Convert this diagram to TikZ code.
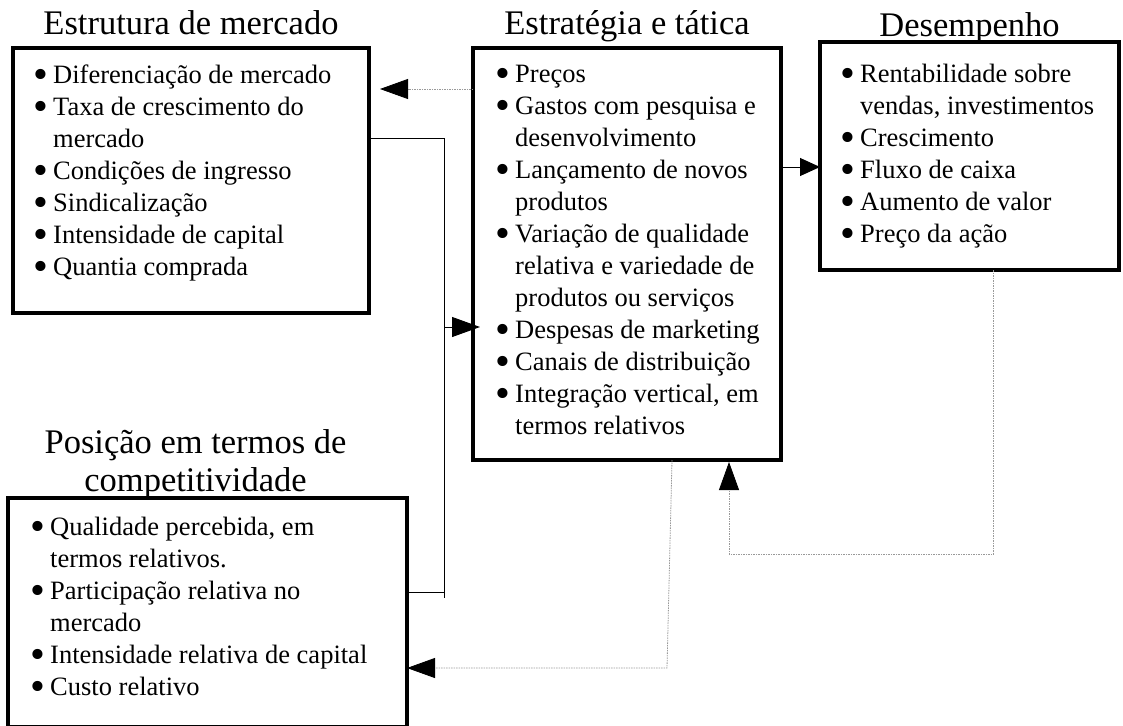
\documentclass[tikz,border=0pt]{standalone}
\usepackage{fontspec}
\setmainfont{Liberation Serif}
\usetikzlibrary{arrows.meta, positioning}

\newcommand{\marca}{\makebox[20pt][l]{\smash{\raisebox{-5.5pt}{\scalebox{1.6}{\textbullet}}}}}
\newcommand{\recuo}{\hspace*{20pt}}

\tikzset{
    cinza/.style={gray!80, line width=0.8pt, dash pattern=on 1.5pt off 1pt},
    preto/.style={black, line width=1pt},
}

\begin{document}
\begin{tikzpicture}[x=1pt, y=-1pt]
\useasboundingbox (0,0) rectangle (1123,725);
\clip (0,0) rectangle (1123,725);

% caixas
\begin{scope}[every node/.style={draw, line width=4pt, inner sep=0pt, outer sep=0pt, anchor=north west}]
    \node[minimum width=356pt, minimum height=265pt] (mkt) at (13,48) {};
    \node[minimum width=308pt, minimum height=412pt] (est) at (473,48) {};
    \node[minimum width=299pt, minimum height=228pt] (des) at (820,42) {};
    \node[minimum width=399pt, minimum height=229pt] (pos) at (8,498) {};
\end{scope}

% titulos
\begin{scope}[every node/.style={inner sep=0pt, align=center, font=\fontsize{34.5}{38}\selectfont}]
    \node[anchor=base] (tmkt) at (mkt.north |- 0,35) {Estrutura de mercado};
    \node[anchor=base] (test) at (est.north |- 0,35) {Estratégia e tática};
    \node[anchor=base] (tdes) at (des.north |- 0,37) {Desempenho};
    \node[above=-1pt of pos, xshift=-12pt] (tpos) {Posição em termos de\\competitividade};
\end{scope}

% listas
\begin{scope}[every node/.style={inner sep=0pt, align=left, font=\fontsize{26.5}{32}\selectfont}]
    \node[below right=12.6pt and 20pt of mkt.north west] (lmkt) {\strut\marca Diferenciação de mercado\\
        \marca Taxa de crescimento do\\ \recuo mercado\\
        \marca Condições de ingresso\\
        \marca Sindicalização\\
        \marca Intensidade de capital\\
        \marca Quantia comprada};
    \node[below right=11.6pt and 22pt of est.north west] (lest) {\strut\marca Preços\\
        \marca Gastos com pesquisa e\\ \recuo desenvolvimento\\
        \marca Lançamento de novos\\ \recuo produtos\\
        \marca Variação de qualidade\\ \recuo relativa e variedade de\\ \recuo produtos ou serviços\\
        \marca Despesas de marketing\\
        \marca Canais de distribuição\\
        \marca Integração vertical, em\\ \recuo termos relativos};
    \node[below right=17.6pt and 20pt of des.north west] (ldes) {\strut\marca Rentabilidade sobre\\ \recuo vendas, investimentos\\
        \marca Crescimento\\
        \marca Fluxo de caixa\\
        \marca Aumento de valor\\
        \marca Preço da ação};
    \node[below right=14.6pt and 22pt of pos.north west] (lpos) {\strut\marca Qualidade percebida, em\\ \recuo termos relativos.\\
        \marca Participação relativa no\\ \recuo mercado\\
        \marca Intensidade relativa de capital\\
        \marca Custo relativo};
\end{scope}

\coordinate (s1) at (380,89);
\coordinate (jt) at (444,138);
\coordinate (jm) at (444,327);
\coordinate (s2) at (480,327);
\coordinate (jp) at (444,592);
\coordinate (jb) at (444,598);
\coordinate (dc) at (667,668);
\coordinate (fd) at (993,554);
\coordinate (fe) at (729,554);
\coordinate (s4) at (729,462);
\coordinate (m5) at (0,167);

\begin{scope}[>={Triangle[black, length=28pt, width=20pt]}]
    % pontilhadas
    \draw[cinza, ->] (est.west |- s1) -- (s1);
    \draw[cinza, ->] (est.south -| 672,0) -- (dc) -- (pos.east |- dc);
    \draw[cinza, ->] (des.south -| fd) -- (fd) -- (fe) -- (s4);
    % cheias
    \draw[preto] (mkt.east |- jt) -- (jt) -- (jb);
    \draw[preto] (pos.east |- jp) -- (jp);
    \draw[preto, ->] (jm) -- (s2);
    \draw[preto, -{Triangle[length=20pt, width=18pt]}] (est.east |- m5) -- (des.west |- m5);
\end{scope}
\end{tikzpicture}
\end{document}
